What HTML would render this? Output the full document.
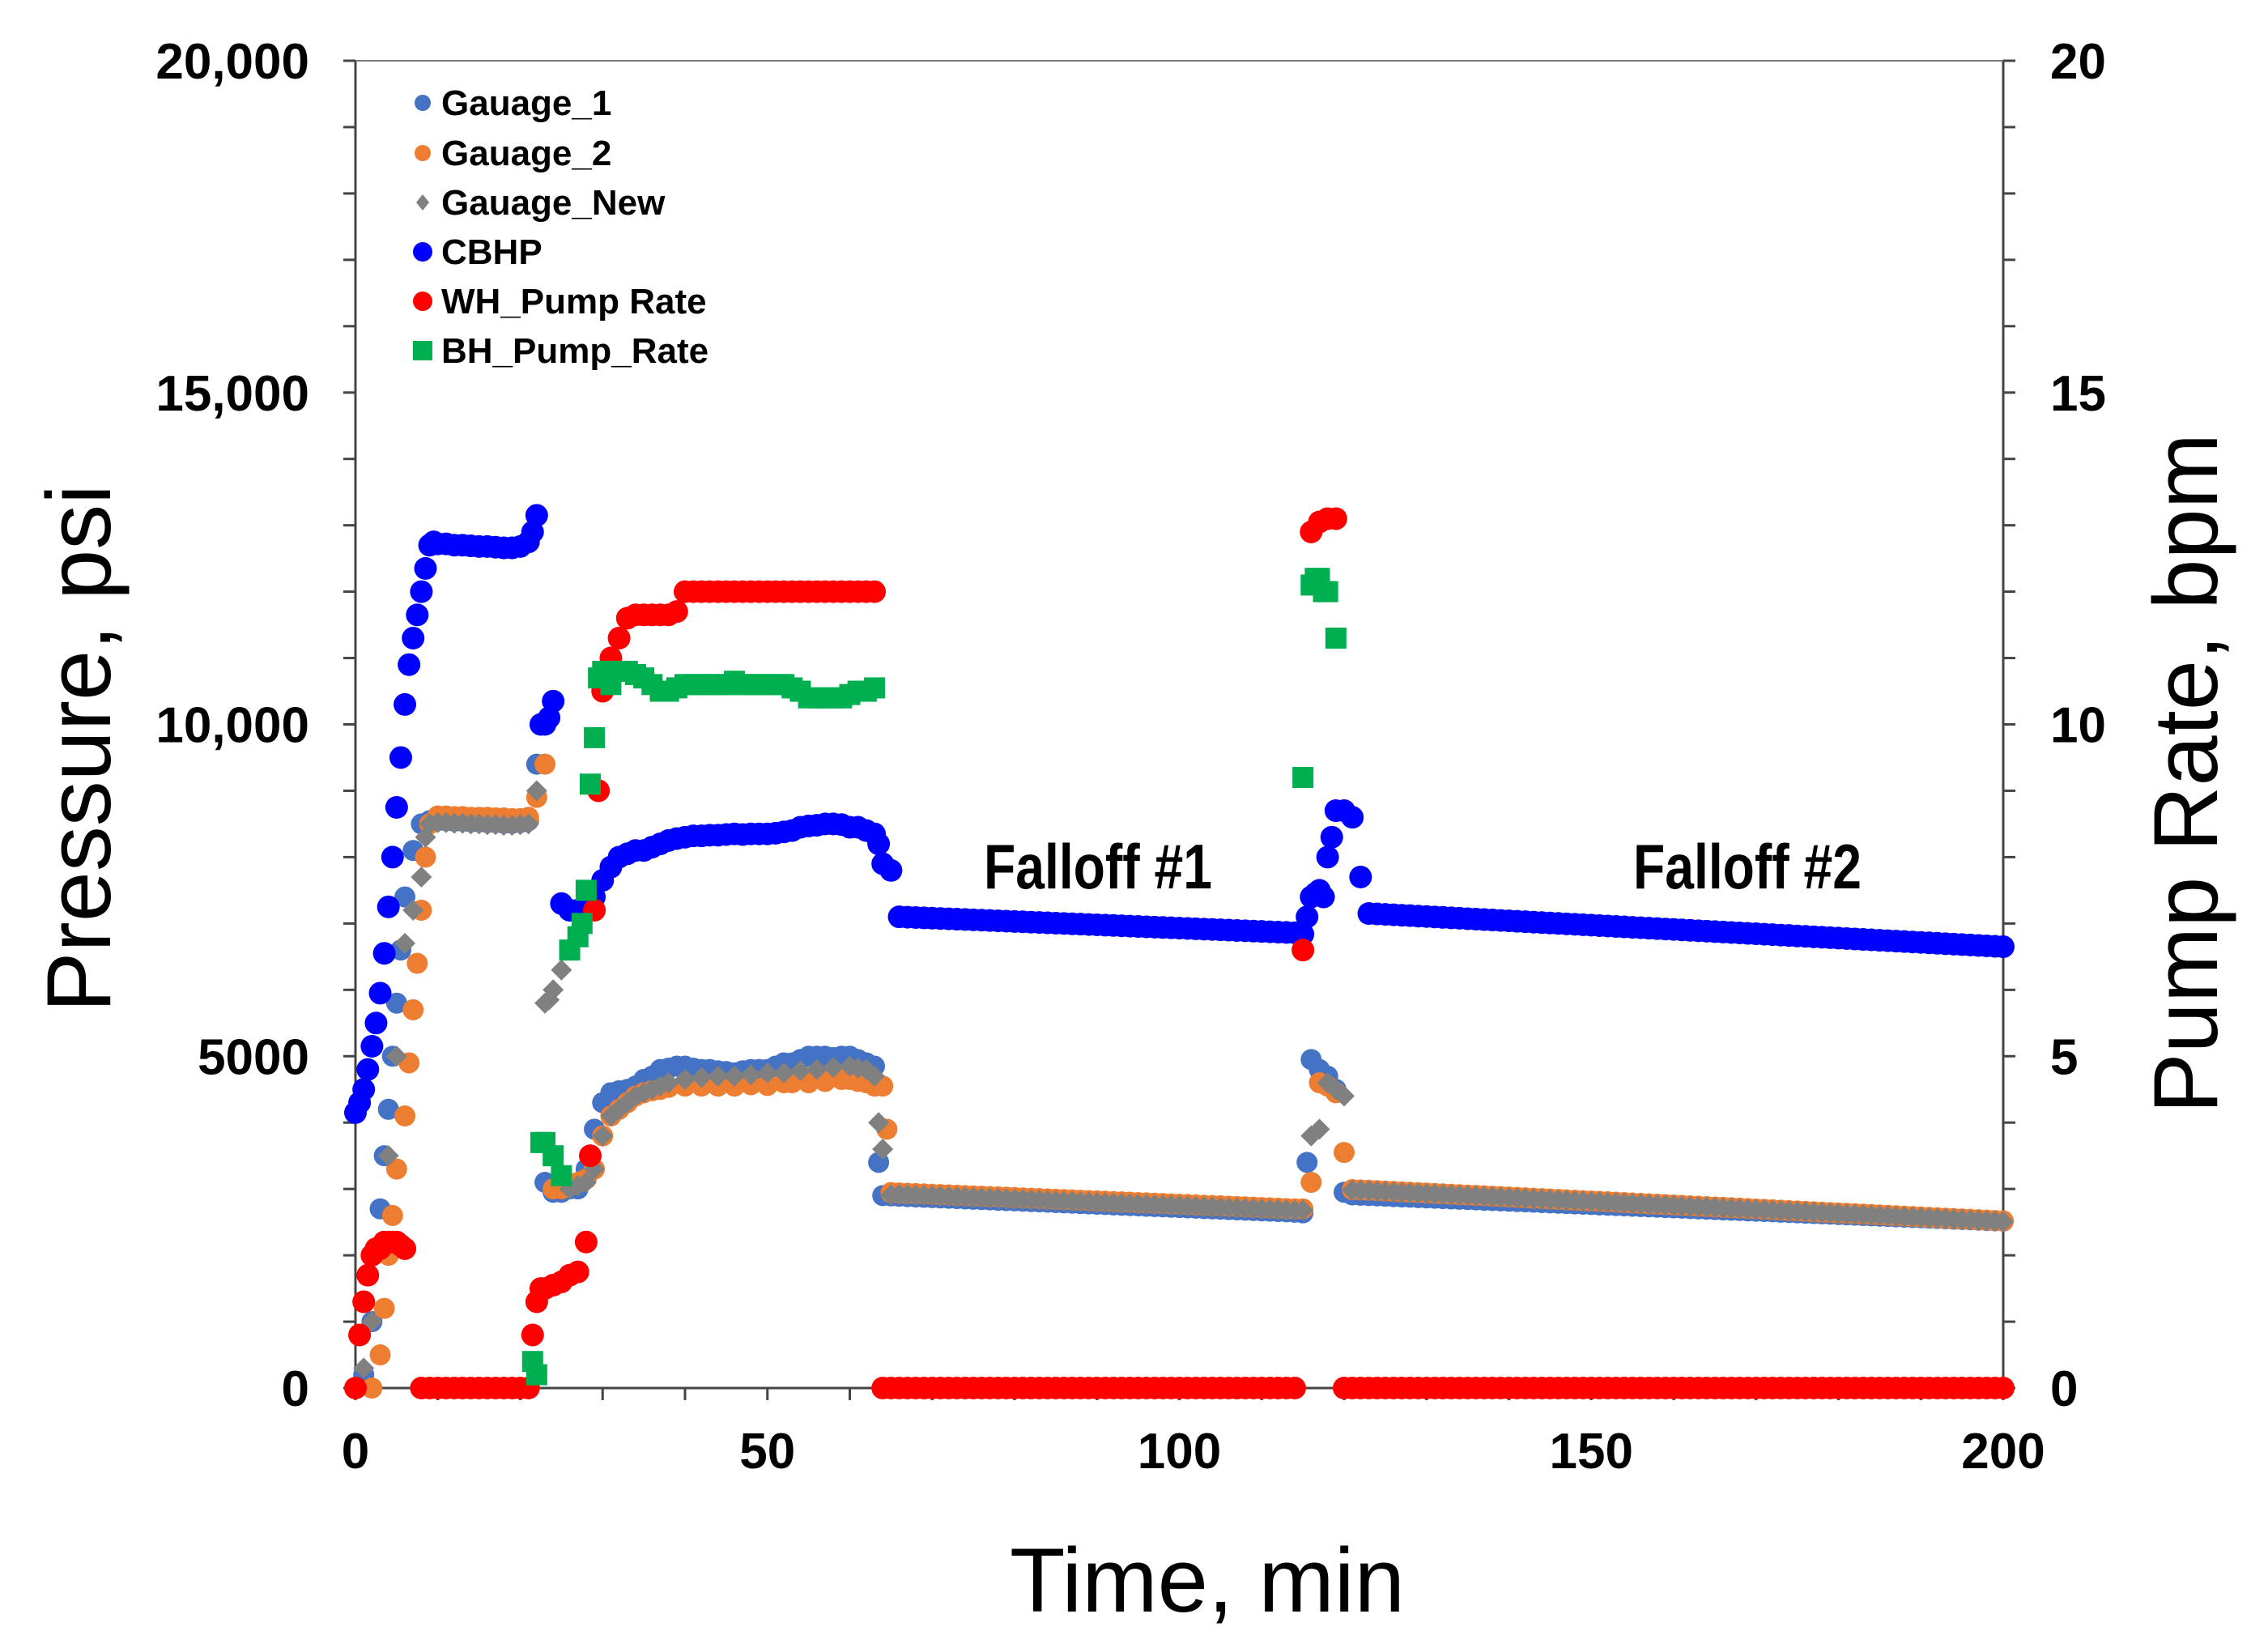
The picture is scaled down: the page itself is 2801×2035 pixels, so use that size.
<!DOCTYPE html>
<html><head><meta charset="utf-8"><style>
html,body{margin:0;padding:0;background:#fff;}
svg{display:block;font-family:"Liberation Sans",Arial,sans-serif;}
</style></head><body>
<svg id="chart" width="2801" height="2035" viewBox="0 0 2801 2035" xmlns="http://www.w3.org/2000/svg">
<rect width="2801" height="2035" fill="#fff"/>
<g id="axes"></g>
<g id="marks"></g>
<text x="1215" y="1097" font-size="78" font-weight="bold" textLength="282" lengthAdjust="spacingAndGlyphs">Falloff #1</text>
<text x="2017" y="1097" font-size="78" font-weight="bold" textLength="282" lengthAdjust="spacingAndGlyphs">Falloff #2</text>
<text x="0" y="0" font-size="112" text-anchor="middle" transform="translate(136,924) rotate(-90)" textLength="652" lengthAdjust="spacingAndGlyphs">Pressure, psi</text>
<text x="0" y="0" font-size="112" text-anchor="middle" transform="translate(2738,955) rotate(-90)" textLength="840" lengthAdjust="spacingAndGlyphs">Pump Rate, bpm</text>
<text x="1491" y="1990" font-size="112" text-anchor="middle" textLength="488" lengthAdjust="spacingAndGlyphs">Time, min</text>
<g id="legend"></g>
</svg>
<script>
const xTicks=[0,50,100,150,200];
const yTicks=[0,5000,10000,15000,20000];
const yTickLabels=["0","5000","10,000","15,000","20,000"];
const y2Ticks=[0,5,10,15,20];
const y2TickLabels=["0","5","10","15","20"];

// shared falloff time stamps (min)
const fall1T=[66,67,68,69,70,71,72,73,74,75,76,77,78,79,80,81,82,83,84,85,86,87,88,89,90,91,92,93,94,95,96,97,98,99,100,101,102,103,104,105,106,107,108,109,110,111,112,113,114];
const fall2T=[123,124,125,126,127,128,129,130,131,132,133,134,135,136,137,138,139,140,141,142,143,144,145,146,147,148,149,150,151,152,153,154,155,156,157,158,159,160,161,162,163,164,165,166,167,168,169,170,171,172,173,174,175,176,177,178,179,180,181,182,183,184,185,186,187,188,189,190,191,192,193,194,195,196,197,198,199,200];

// CBHP (psi)
const cbhpPairs=[[0,4150],[0.5,4300],[1,4500],[1.5,4800],[2,5150],[2.5,5500],[3,5950],[3.5,6550],[4,7250],[4.5,8000],[5,8750],[5.5,9500],[6,10300],[6.5,10900],[7,11300],[7.5,11650],[8,12000],[8.5,12350],[9,12700],[9.5,12750],[10,12720],[11,12720],[12,12700],[13,12700],[14,12690],[15,12680],[16,12680],[17,12670],[18,12660],[19,12660],[20,12680],[21,12750],[21.5,12900],[22,13150],[22.5,10000],[23,10000],[23.5,10100],[24,10350],[25,7300],[26,7200],[27,7200],[28,7250],[29,7400],[30,7650],[31,7850],[32,8000],[33,8050],[34,8100],[35,8100],[36,8150],[37,8200],[38,8250],[39,8280],[40,8300],[41,8320],[42,8320],[43,8330],[44,8330],[45,8340],[46,8350],[47,8340],[48,8350],[49,8350],[50,8350],[51,8360],[52,8380],[53,8400],[54,8450],[55,8470],[56,8480],[57,8500],[58,8500],[59,8490],[60,8450],[61,8450],[62,8400],[63,8350],[63.5,8200],[64,7900],[65,7800],[115,6840],[115.5,7100],[116,7400],[116.5,7450],[117,7500],[117.5,7400],[118,8000],[118.5,8300],[119,8700],[120,8700],[121,8600],[122,7700]];
const cbhpFall1=[7100,7095,7090,7085,7080,7075,7070,7065,7060,7055,7050,7045,7040,7035,7030,7025,7020,7015,7010,7005,7000,6995,6990,6985,6980,6975,6970,6965,6960,6955,6950,6945,6940,6935,6930,6925,6920,6915,6910,6905,6900,6895,6890,6885,6880,6875,6870,6865,6860];
const cbhpFall2=[7150,7144,7137,7131,7124,7118,7111,7105,7098,7092,7085,7079,7072,7066,7059,7053,7046,7040,7033,7027,7020,7014,7007,7001,6994,6988,6981,6975,6968,6962,6955,6949,6942,6936,6929,6923,6916,6910,6903,6897,6890,6884,6877,6871,6864,6858,6851,6845,6838,6832,6825,6819,6812,6806,6799,6793,6786,6780,6773,6767,6760,6754,6747,6741,6734,6728,6721,6715,6708,6702,6695,6689,6682,6676,6669,6663,6656,6650];

// Gauage_1 (psi)
const g1Pairs=[[1,200],[2,1000],[3,2700],[3.5,3500],[4,4200],[4.5,5000],[5,5800],[5.5,6600],[6,7400],[7,8100],[8,8500],[9,8550],[10,8550],[11,8550],[12,8540],[13,8540],[14,8530],[15,8530],[16,8520],[17,8520],[18,8510],[19,8510],[20,8520],[21,8550],[22,9400],[23,3100],[24,2950],[25,2950],[26,3000],[27,3000],[28,3300],[29,3900],[30,4300],[31,4450],[32,4480],[33,4500],[34,4550],[35,4650],[36,4700],[37,4800],[38,4820],[39,4850],[40,4850],[41,4820],[42,4800],[43,4800],[44,4780],[45,4770],[46,4750],[47,4780],[48,4800],[49,4800],[50,4800],[51,4850],[52,4900],[53,4900],[54,4950],[55,5000],[56,5000],[57,5000],[58,4980],[59,5000],[60,5000],[61,4950],[62,4900],[63,4850],[63.5,3400],[64,2900],[65,2895],[115,2640],[115.5,3400],[116,4950],[117,4800],[118,4700],[119,4500],[120,2950],[121,2910],[122,2905]];
const g1Fall1=[2890,2885,2880,2875,2870,2865,2860,2855,2850,2845,2840,2835,2830,2825,2820,2815,2810,2805,2800,2795,2790,2785,2780,2775,2770,2765,2760,2755,2750,2745,2740,2735,2730,2725,2720,2715,2710,2705,2700,2695,2690,2685,2680,2675,2670,2665,2660,2655,2650];
const g1Fall2=[2900,2895,2890,2885,2880,2875,2870,2865,2860,2855,2850,2845,2840,2835,2830,2825,2820,2815,2810,2805,2800,2795,2790,2785,2780,2775,2770,2765,2760,2755,2750,2745,2740,2735,2730,2725,2720,2715,2710,2705,2700,2695,2690,2685,2680,2675,2670,2665,2660,2655,2650,2645,2640,2635,2630,2625,2620,2615,2610,2605,2600,2595,2590,2585,2580,2575,2570,2565,2560,2555,2550,2545,2540,2535,2530,2525,2520,2515];

// Gauage_2 (psi)
const g2Pairs=[[2,0],[3,500],[3.5,1200],[4,2000],[4.5,2600],[5,3300],[6,4100],[6.5,4900],[7,5700],[7.5,6400],[8,7200],[8.5,8000],[9,8500],[10,8620],[11,8620],[12,8610],[13,8610],[14,8600],[15,8600],[16,8600],[17,8590],[18,8590],[19,8580],[20,8580],[21,8600],[22,8900],[23,9400],[24,3000],[25,3000],[26,3050],[27,3100],[28,3150],[29,3300],[30,3800],[31,4100],[32,4200],[33,4300],[34,4400],[35,4450],[36,4480],[37,4500],[38,4530],[40,4550],[42,4550],[44,4550],[46,4550],[48,4570],[50,4560],[52,4600],[53,4600],[55,4600],[57,4620],[59,4650],[60,4650],[61,4620],[62,4600],[63,4550],[64,4550],[64.5,3900],[65,2945],[115,2700],[116,3100],[117,4600],[118,4550],[119,4450],[120,3550],[121,2990],[122,2985]];
const g2Fall1=[2940,2935,2930,2925,2920,2915,2910,2905,2900,2895,2890,2885,2880,2875,2870,2865,2860,2855,2850,2845,2840,2835,2830,2825,2820,2815,2810,2805,2800,2795,2790,2785,2780,2775,2770,2765,2760,2755,2750,2745,2740,2735,2730,2725,2720,2715,2710,2705,2700];
const g2Fall2=[2980,2974,2968,2962,2956,2950,2944,2938,2932,2926,2920,2914,2908,2902,2896,2890,2884,2878,2872,2866,2860,2854,2848,2842,2836,2830,2824,2818,2812,2806,2800,2794,2788,2782,2776,2770,2764,2758,2752,2746,2740,2734,2728,2722,2716,2710,2704,2698,2692,2686,2680,2674,2668,2662,2656,2650,2644,2638,2632,2626,2620,2614,2608,2602,2596,2590,2584,2578,2572,2566,2560,2554,2548,2542,2536,2530,2524,2518];

// Gauage_New (psi)
const gnPairs=[[1,300],[2,1000],[3,2100],[4,3500],[5,5000],[6,6700],[7,7200],[8,7700],[8.5,8300],[9,8500],[10,8520],[11,8520],[12,8510],[13,8510],[14,8500],[15,8500],[16,8490],[17,8490],[18,8480],[19,8480],[20,8490],[21,8500],[22,9000],[23,5800],[23.5,5850],[24,6000],[25,6300],[26,3000],[27,3050],[28,3100],[29,3300],[30,3800],[31,4100],[32,4200],[33,4300],[34,4400],[35,4450],[36,4500],[37,4550],[38,4600],[40,4650],[42,4680],[44,4700],[46,4700],[48,4720],[50,4750],[52,4750],[54,4780],[56,4800],[58,4830],[60,4850],[61,4820],[62,4800],[63,4700],[63.5,4000],[64,3600],[65,2910],[115,2680],[116,3800],[117,3900],[118,4600],[119,4500],[120,4400],[121,2980],[122,2975]];
const gnFall1=[2915,2910,2905,2900,2895,2890,2885,2880,2875,2870,2865,2860,2855,2850,2845,2840,2835,2830,2825,2820,2815,2810,2805,2800,2795,2790,2785,2780,2775,2770,2765,2760,2755,2750,2745,2740,2735,2730,2725,2720,2715,2710,2705,2700,2695,2690,2685,2680,2675];
const gnFall2=[2970,2964,2958,2952,2946,2940,2934,2928,2922,2916,2910,2904,2898,2892,2886,2880,2874,2868,2862,2856,2850,2844,2838,2832,2826,2820,2814,2808,2802,2796,2790,2784,2778,2772,2766,2760,2754,2748,2742,2736,2730,2724,2718,2712,2706,2700,2694,2688,2682,2676,2670,2664,2658,2652,2646,2640,2634,2628,2622,2616,2610,2604,2598,2592,2586,2580,2574,2568,2562,2556,2550,2544,2538,2532,2526,2520,2514,2508];

// WH_Pump Rate (bpm)
const whPairs=[[0,0],[0.5,0.8],[1,1.3],[1.5,1.7],[2,2.0],[2.5,2.1],[3,2.1],[3.5,2.2],[4,2.2],[4.5,2.2],[5,2.2],[5.5,2.15],[6,2.1],[8,0],[9,0],[10,0],[11,0],[12,0],[13,0],[14,0],[15,0],[16,0],[17,0],[18,0],[19,0],[20,0],[21,0],[21.5,0.8],[22,1.3],[22.5,1.5],[23,1.5],[24,1.55],[25,1.6],[26,1.7],[27,1.75],[28,2.2],[28.5,3.5],[29,7.2],[29.5,9.0],[30,10.5],[31,11.0],[32,11.3],[33,11.6],[34,11.65],[35,11.65],[36,11.65],[37,11.65],[38,11.65],[39,11.7],[40,12.0],[41,12.0],[42,12.0],[43,12.0],[44,12.0],[45,12.0],[46,12.0],[47,12.0],[48,12.0],[49,12.0],[50,12.0],[51,12.0],[52,12.0],[53,12.0],[54,12.0],[55,12.0],[56,12.0],[57,12.0],[58,12.0],[59,12.0],[60,12.0],[61,12.0],[62,12.0],[63,12.0],[64,0],[65,0],[115,6.6],[116,12.9],[117,13.05],[118,13.1],[119,13.1],[120,0],[121,0],[122,0]];
const whFall1=[0,0,0,0,0,0,0,0,0,0,0,0,0,0,0,0,0,0,0,0,0,0,0,0,0,0,0,0,0,0,0,0,0,0,0,0,0,0,0,0,0,0,0,0,0,0,0,0,0];
const whFall2=[0,0,0,0,0,0,0,0,0,0,0,0,0,0,0,0,0,0,0,0,0,0,0,0,0,0,0,0,0,0,0,0,0,0,0,0,0,0,0,0,0,0,0,0,0,0,0,0,0,0,0,0,0,0,0,0,0,0,0,0,0,0,0,0,0,0,0,0,0,0,0,0,0,0,0,0,0,0];

// BH_Pump_Rate (bpm)
const bhPairs=[[21.5,0.4],[22,0.2],[22.5,3.7],[23,3.7],[24,3.5],[25,3.2],[26,6.6],[27,6.8],[27.5,7.0],[28,7.5],[28.5,9.1],[29,9.8],[29.5,10.7],[30,10.8],[31,10.6],[32,10.8],[33,10.8],[34,10.75],[35,10.7],[36,10.6],[37,10.5],[38,10.5],[39,10.55],[40,10.6],[41,10.6],[42,10.6],[43,10.6],[44,10.6],[45,10.6],[46,10.65],[47,10.6],[48,10.6],[49,10.6],[50,10.6],[51,10.6],[52,10.6],[53,10.55],[54,10.5],[55,10.4],[56,10.4],[57,10.4],[58,10.4],[59,10.4],[60,10.45],[61,10.5],[62,10.5],[63,10.55],[115,9.2],[116,12.1],[116.5,12.2],[117,12.2],[117.5,12.0],[118,12.0],[119,11.3]];

const X0=439,X1=2474,YT=75,YB=1714;
const xs=t=>X0+(t/200)*(X1-X0);
const yp=p=>YB-(p/20000)*(YB-YT);
const yr=r=>YB-(r/20)*(YB-YT);
const NS="http://www.w3.org/2000/svg";
function mk(tag,attrs,parent){const e=document.createElementNS(NS,tag);for(const k in attrs)e.setAttribute(k,attrs[k]);parent.appendChild(e);return e;}
function combine(pairs,f1,f2){const out=pairs.slice();if(f1)fall1T.forEach((t,i)=>out.push([t,f1[i]]));if(f2)fall2T.forEach((t,i)=>out.push([t,f2[i]]));return out;}

const axes=document.getElementById('axes');
let e;
e=mk('line',{x1:X0,y1:YT,x2:X0,y2:YB+10,stroke:'#444','stroke-width':3},axes);


e=mk('line',{x1:X1,y1:YT,x2:X1,y2:YB+10,stroke:'#444','stroke-width':3},axes);


e=mk('line',{x1:X0-15,y1:YB,x2:X1+15,y2:YB,stroke:'#444','stroke-width':3},axes);


e=mk('line',{x1:X0-15,y1:YT,x2:X1+15,y2:YT,stroke:'#777','stroke-width':2},axes);


for(let v=0;v<=20000;v+=1000){
  e=mk('line',{x1:X0-15,y1:yp(v),x2:X0,y2:yp(v),stroke:'#444','stroke-width':3},axes);
  
  
  e=mk('line',{x1:X1,y1:yp(v),x2:X1+15,y2:yp(v),stroke:'#444','stroke-width':3},axes);
  
  
}
for(let t=0;t<=200;t+=10){
  e=mk('line',{x1:xs(t),y1:YB,x2:xs(t),y2:YB+15,stroke:'#444','stroke-width':3},axes);
  
  
}
yTicks.forEach((v,i)=>{
  e=mk('text',{x:382,y:yp(v)+22,'font-size':62,'font-weight':'bold','text-anchor':'end'},axes);
  e.textContent=yTickLabels[i];
  
  
});
y2Ticks.forEach((v,i)=>{
  e=mk('text',{x:2532,y:yr(v)+22,'font-size':62,'font-weight':'bold','text-anchor':'start'},axes);
  e.textContent=y2TickLabels[i];
  
  
});
xTicks.forEach(v=>{
  e=mk('text',{x:xs(v),y:1813,'font-size':62,'font-weight':'bold','text-anchor':'middle'},axes);
  e.textContent=String(v);
  
  
});

const marks=document.getElementById('marks');
let g;
g=mk('g',{},marks);


combine(g1Pairs,g1Fall1,g1Fall2).forEach(p=>{
  e=mk('circle',{cx:xs(p[0]),cy:yp(p[1]),r:13,fill:'#4472C4'},g);
  
  
});
g=mk('g',{},marks);


combine(g2Pairs,g2Fall1,g2Fall2).forEach(p=>{
  e=mk('circle',{cx:xs(p[0]),cy:yp(p[1]),r:13,fill:'#ED7D31'},g);
  
  
});
g=mk('g',{},marks);


combine(gnPairs,gnFall1,gnFall2).forEach(p=>{
  const x=xs(p[0]),y=yp(p[1]);
  e=mk('polygon',{points:`${x},${y-13} ${x+13},${y} ${x},${y+13} ${x-13},${y}`,fill:'#808080'},g);
  
  
});
g=mk('g',{},marks);


combine(cbhpPairs,cbhpFall1,cbhpFall2).forEach(p=>{
  e=mk('circle',{cx:xs(p[0]),cy:yp(p[1]),r:14,fill:'#0000FF'},g);
  
  
});
g=mk('g',{},marks);


combine(whPairs,whFall1,whFall2).forEach(p=>{
  e=mk('circle',{cx:xs(p[0]),cy:yr(p[1]),r:14,fill:'#FF0000'},g);
  
  
});
g=mk('g',{},marks);


bhPairs.forEach(p=>{
  const x=xs(p[0]),y=yr(p[1]);
  e=mk('rect',{x:x-13,y:y-13,width:26,height:26,fill:'#00B050'},g);
  
  
});

const legend=document.getElementById('legend');
const legNames=["Gauage_1","Gauage_2","Gauage_New","CBHP","WH_Pump Rate","BH_Pump_Rate"];
const legColors=["#4472C4","#ED7D31","#808080","#0000FF","#FF0000","#00B050"];
const legShapes=["c","c","d","c","c","s"];
const legY=[127,189,250,311,372,433];
legNames.forEach((n,i)=>{
  const gg=mk('g',{},legend);
  
  
  const x=522,y=legY[i];
  if(legShapes[i]==='c')mk('circle',{cx:x,cy:y,r:i===3||i===4?12:10,fill:legColors[i]},gg);
  else if(legShapes[i]==='d')mk('polygon',{points:`${x},${y-10} ${x+8},${y} ${x},${y+10} ${x-8},${y}`,fill:legColors[i]},gg);
  else mk('rect',{x:x-12,y:y-12,width:24,height:24,fill:legColors[i]},gg);
  const tx=mk('text',{x:545,y:y+15,'font-size':44,'font-weight':'bold'},gg);
  tx.textContent=n;
});
</script>
</body></html>
